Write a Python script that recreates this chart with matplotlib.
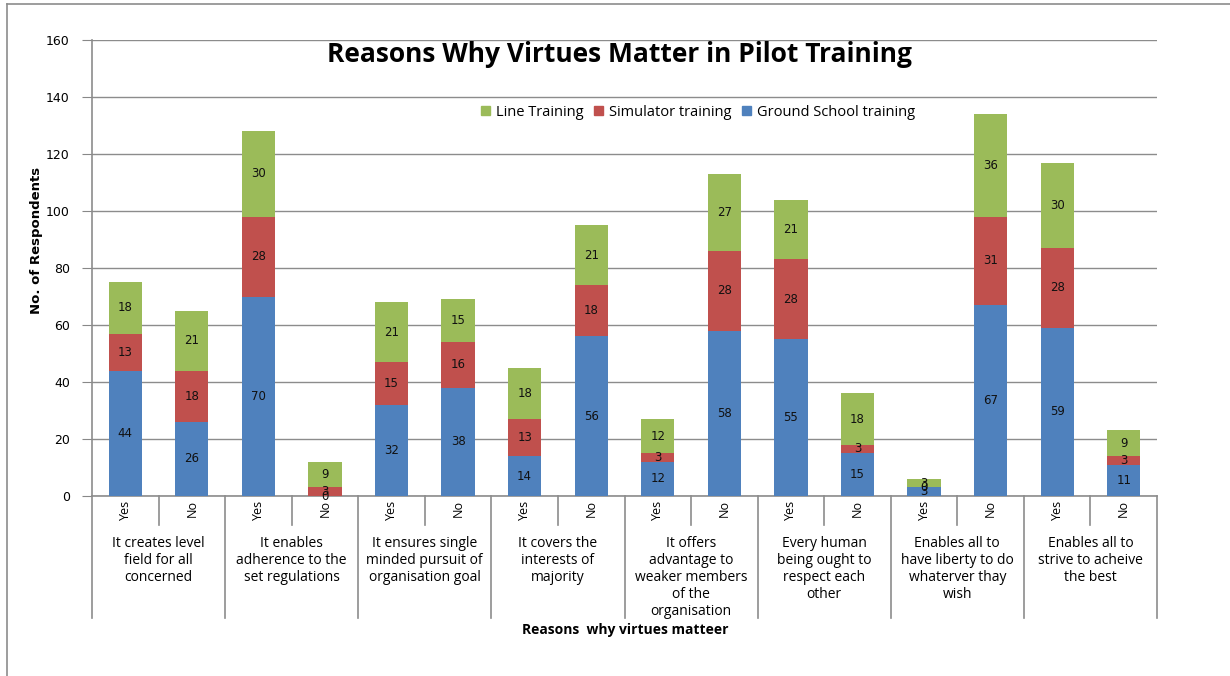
import matplotlib
matplotlib.use("Agg")
import matplotlib.pyplot as plt
from matplotlib.lines import Line2D
from matplotlib.patches import Patch
import numpy as np

plt.rcParams['font.family'] = ['Open Sans', 'DejaVu Sans']

groups = ["It creates level\nfield for all\nconcerned",
          "It enables\nadherence to the\nset regulations",
          "It ensures single\nminded pursuit of\norganisation goal",
          "It covers the\ninterests of\nmajority",
          "It offers\nadvantage to\nweaker members\nof the\norganisation",
          "Every human\nbeing ought to\nrespect each\nother",
          "Enables all to\nhave liberty to do\nwhaterver thay\nwish",
          "Enables all to\nstrive to acheive\nthe best"]
answers = ["Yes", "No"]
ground = [44, 26, 70, 0, 32, 38, 14, 56, 12, 58, 55, 15, 3, 67, 59, 11]
simulator = [13, 18, 28, 3, 15, 16, 13, 18, 3, 28, 28, 3, 0, 31, 28, 3]
line_tr = [18, 21, 30, 9, 21, 15, 18, 21, 12, 27, 21, 18, 3, 36, 30, 9]

c_ground = "#4F81BD"
c_sim = "#C0504D"
c_line = "#9BBB59"

fig = plt.figure(figsize=(12.3, 6.76), dpi=100)
ax = fig.add_axes([92/1230, 1-496/676, (1157-92)/1230, (496-40)/676])

x = np.arange(len(ground))
g = np.array(ground); s = np.array(simulator); l = np.array(line_tr)
w = 0.5
ax.bar(x, g, w, color=c_ground, zorder=3)
ax.bar(x, s, w, bottom=g, color=c_sim, zorder=3)
ax.bar(x, l, w, bottom=g+s, color=c_line, zorder=3)

num_font = ['DejaVu Sans']
for i in range(len(x)):
    ax.text(x[i], g[i]/2, str(g[i]), ha='center', va='center', fontsize=8.5, zorder=4,
            color='#111111', family=num_font)
    ax.text(x[i], g[i]+s[i]/2, str(s[i]), ha='center', va='center', fontsize=8.5, zorder=4,
            color='#111111', family=num_font)
    ax.text(x[i], g[i]+s[i]+l[i]/2, str(l[i]), ha='center', va='center', fontsize=8.5, zorder=4,
            color='#111111', family=num_font)

ax.set_xlim(-0.5, len(x)-0.5)
ax.set_ylim(0, 160)
ax.set_yticks(range(0, 161, 20))
ax.tick_params(axis='y', length=7, color='#888888', labelsize=9, pad=9)
for t in ax.get_yticklabels():
    t.set_family(num_font)
ax.set_xticks([])
ax.yaxis.grid(True, color='#8c8c8c', linewidth=1, zorder=0)
for sp in ['top', 'right', 'bottom']:
    ax.spines[sp].set_visible(False)
ax.spines['left'].set_color('#8c8c8c')
ax.spines['left'].set_linewidth(1.2)

# category axis
tr = ax.get_xaxis_transform()
ax.plot([-0.5, len(x)-0.5], [0, 0], color='#8c8c8c', lw=1.2, transform=tr, clip_on=False)
short = -29/456
tall = -122/456
for i in range(len(x)):
    ax.text(x[i], -4/456, answers[i % 2], rotation=90, ha='center', va='top', fontsize=9, transform=tr)
for k in range(len(groups)):
    ax.plot([2*k+0.5]*2, [0, short], color='#8c8c8c', lw=1.2, transform=tr, clip_on=False)
    ax.plot([2*k-0.5]*2, [0, tall], color='#8c8c8c', lw=1.2, transform=tr, clip_on=False)
    ax.text(2*k+0.5, -40/456, groups[k], ha='center', va='top', fontsize=10,
            linespacing=1.18, transform=tr)
ax.plot([len(x)-0.5]*2, [0, tall], color='#8c8c8c', lw=1.2, transform=tr, clip_on=False)

fig.text(619/1230, 1-55/676, "Reasons Why Virtues Matter in Pilot Training", ha='center', va='center',
         fontsize=19, fontweight='bold')
fig.text(625/1230, 1-630/676, "Reasons  why virtues matteer", ha='center', va='center',
         fontsize=10, fontweight='bold')
fig.text(37/1230, 1-240/676, "No. of Respondents", rotation=90, ha='center', va='center',
         fontsize=9.5, fontweight='bold', family=['Liberation Sans Narrow', 'DejaVu Sans'])

handles = [Patch(color=c_line), Patch(color=c_sim), Patch(color=c_ground)]
labels = ["Line Training", "Simulator training", "Ground School training"]
fig.legend(handles, labels, loc='center', bbox_to_anchor=(698/1230, 1-112/676), ncol=3, frameon=False,
           fontsize=10.5, handlelength=0.65, handleheight=0.65, handletextpad=0.4, columnspacing=0.7)

# outer border (top and left)
fig.add_artist(Line2D([7/1230, 1], [1-4/676]*2, color='#8c8c8c', lw=1.2, transform=fig.transFigure))
fig.add_artist(Line2D([7/1230]*2, [0, 1-4/676], color='#8c8c8c', lw=1.2, transform=fig.transFigure))

fig.savefig("out.png", dpi=100)
